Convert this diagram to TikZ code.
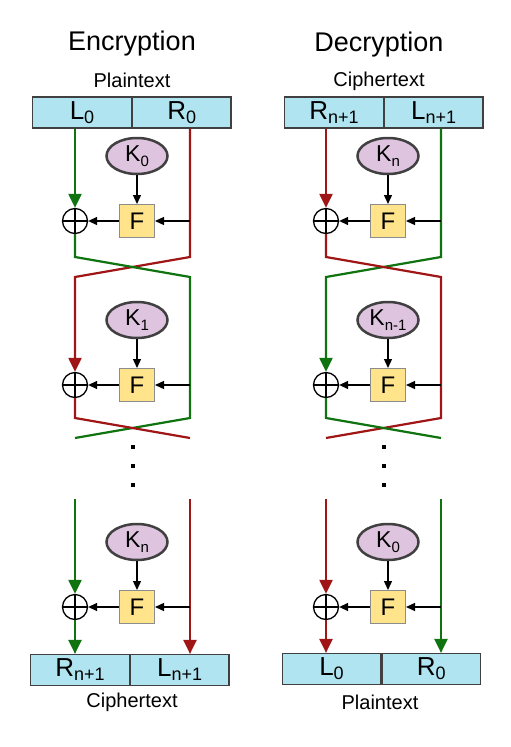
\documentclass[tikz,border=0pt]{standalone}
\usepackage{fontspec}
\setmainfont{Liberation Sans}
\usetikzlibrary{arrows.meta,positioning,shapes.geometric}

\definecolor{fgreen}{RGB}{15,115,15}
\definecolor{fred}{RGB}{160,22,22}
\definecolor{blockfill}{RGB}{176,228,240}
\definecolor{keyfill}{RGB}{222,196,222}
\definecolor{ffill}{RGB}{255,228,140}

\newcommand{\blocktxt}[2]{\fontsize{26}{26}\selectfont #1\raisebox{-4pt}{\fontsize{18}{18}\selectfont #2}}
\newcommand{\keytxt}[1]{\fontsize{23}{23}\selectfont K\raisebox{-5pt}{\fontsize{15}{15}\selectfont #1}}

\tikzset{
    half/.style={draw=black!75,line width=1.2pt,fill=blockfill,minimum width=98.5pt,minimum height=31pt,inner sep=0pt},
    keyell/.style={ellipse,draw=black!75,line width=2.5pt,fill=keyfill,minimum width=61pt,minimum height=36pt,inner sep=0pt},
    fnbox/.style={draw=black!45,line width=1pt,fill=ffill,minimum width=35pt,minimum height=33pt,inner sep=0pt,font=\fontsize{24}{24}\selectfont},
    xor/.style={circle,draw,line width=1.3pt,minimum size=25pt,inner sep=0pt,
        path picture={\draw[line width=1.3pt] (path picture bounding box.north) -- (path picture bounding box.south)
            (path picture bounding box.west) -- (path picture bounding box.east);}},
    blk/.style={-{Triangle[width=8pt,length=9pt]},line width=1.3pt},
    wire/.style={line width=2.2pt},
    wirearr/.style={wire,-{Triangle[width=13pt,length=14pt]}},
    big/.style={font=\fontsize{27}{27}\selectfont},
    caption/.style={font=\fontsize{20}{20}\selectfont}
}

% one round: key, F box, xor
\newcommand{\feround}[3]{%
    \node[keyell] (#1k) at (137,#2-65) {\keytxt{#3}};
    \node[fnbox] (#1f) at (137,#2) {F};
    \node[xor] (#1x) at (75,#2) {};
    \draw[blk] (#1k) -- (#1f);
    \draw[blk] (#1f) -- (#1x);
}

\begin{document}
\begin{tikzpicture}[x=1pt,y=-1pt]
    \useasboundingbox (0,0) rectangle (511,747);

    % encryption
    \node[big] (etitle) at (132,44) {Encryption};
    \node[caption] (ein) at (132,80) {Plaintext};
    \node[half] (etl) at (82,112.5) {\blocktxt{L}{0}};
    \node[half,right=0pt of etl] (etr) {\blocktxt{R}{0}};
    \node[half] (ebl) at (80,670) {\blocktxt{R}{n+1}};
    \node[half,right=0pt of ebl] (ebr) {\blocktxt{L}{n+1}};
    \node[caption] (eout) at (132,702) {Ciphertext};

    % decryption
    \node[big] (dtitle) at (379,45) {Decryption};
    \node[caption] (din) at (379,81) {Ciphertext};
    \node[half] (dtl) at (334,112.5) {\blocktxt{R}{n+1}};
    \node[half,right=0pt of dtl] (dtr) {\blocktxt{L}{n+1}};
    \node[half] (dbl) at (331.5,669) {\blocktxt{L}{0}};
    \node[half,right=0pt of dbl] (dbr) {\blocktxt{R}{0}};
    \node[caption] (dout) at (380,702) {Plaintext};

    \foreach \p/\sx/\ca/\cb/\ka/\kb/\kc in {e/0/fgreen/fred/0/1/n, d/251/fred/fgreen/n/n-1/0}{
        \begin{scope}[xshift=\sx]
            \coordinate (\p a1) at (75,257);
            \coordinate (\p b1) at (190,257);
            \coordinate (\p c1) at (75,277);
            \coordinate (\p d1) at (190,277);
            \coordinate (\p e2) at (75,418);
            \coordinate (\p f2) at (190,418);
            \coordinate (\p g2) at (75,438);
            \coordinate (\p h2) at (190,438);
            \coordinate (\p i3) at (75,499);
            \coordinate (\p j3) at (190,499);

            \feround{\p1}{221}{\ka}
            \feround{\p2}{385}{\kb}
            \feround{\p3}{607}{\kc}

            % round 1 and swap
            \draw[wirearr,\ca] (\p1x |- \p tl.south) -- (\p1x);
            \draw[wirearr,\cb] (\p b1 |- \p tr.south) -- (\p b1) -- (\p c1) -- (\p2x);
            \draw[blk] (\p1f -| \p b1) -- (\p1f);
            \draw[wire,\ca] (\p1x) -- (\p a1) -- (\p d1) -- (\p f2) -- (\p g2);

            % round 2 and swap
            \draw[blk] (\p2f -| \p d1) -- (\p2f);
            \draw[wire,\cb] (\p2x) -- (\p e2) -- (\p h2);

            \foreach \y in {447,466,485}
                \fill (131,\y-2) rectangle (135,\y+2);

            % last round
            \draw[wirearr,\ca] (\p i3) -- (\p3x);
            \draw[wirearr,\ca] (\p3x) -- (\p3x |- \p bl.north);
            \draw[wirearr,\cb] (\p j3) -- (\p j3 |- \p br.north);
            \draw[blk] (\p3f -| \p j3) -- (\p3f);
        \end{scope}
    }
\end{tikzpicture}
\end{document}
